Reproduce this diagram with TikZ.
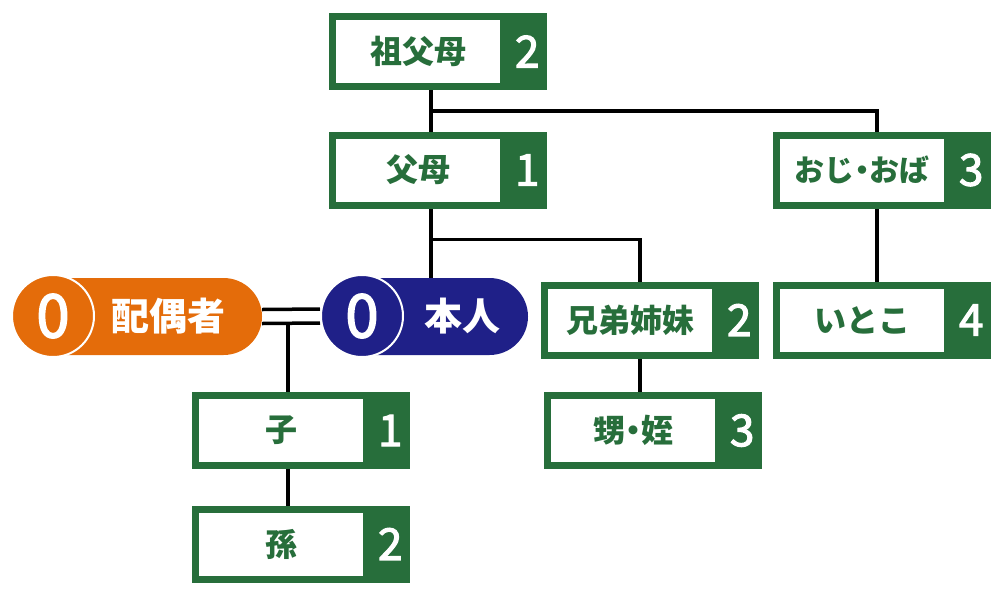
\documentclass[tikz,border=0pt]{standalone}
\usepackage{fontspec}
\newfontfamily\jpfont{Noto Sans CJK JP}
\newfontfamily\numfont{Noto Sans CJK JP}[FakeBold=2.5]
\usetikzlibrary{positioning, backgrounds, calc, shapes.misc}
\definecolor{famgreen}{HTML}{276E3B}
\definecolor{selfblue}{HTML}{1F2088}
\definecolor{spouseorange}{HTML}{E46C0A}

\begin{document}
\begin{tikzpicture}[
    x=1pt, y=-1pt,
    % relative box (white label part)
    relbox/.style={
        rectangle,
        draw=famgreen,
        line width=7pt,
        fill=white,
        minimum width=171pt,
        minimum height=70pt,
        inner sep=0pt,
        text=famgreen,
        font=\jpfont\bfseries\fontsize{32}{32}\selectfont
    },
    % degree number (green part)
    degree/.style={
        rectangle,
        fill=famgreen,
        minimum width=40pt,
        minimum height=77pt,
        inner sep=0pt,
        anchor=west,
        text=white,
        font=\numfont\fontsize{44}{44}\selectfont
    },
    % pill body and circle
    pillbody/.style={
        rounded rectangle,
        rounded rectangle left arc=none,
        minimum height=77pt,
        inner sep=0pt
    },
    pillzero/.style={
        circle,
        draw=white,
        line width=2pt,
        minimum size=82pt,
        inner sep=0pt,
        text=white,
        font=\numfont\fontsize{60}{60}\selectfont
    },
    pilltext/.style={
        text=white,
        inner sep=0pt,
        font=\jpfont\bfseries\fontsize{38}{38}\selectfont
    },
    link/.style={
        draw=black,
        line width=3.5pt
    }
]
\useasboundingbox (0,0) rectangle (1000,595);

% === Spouse and self ===
\node[pillbody, fill=spouseorange, minimum width=209pt] (spouse) at (157.5,316.5) {};
\node[pillzero, fill=spouseorange] (spouse0) at (53,316) {0};
\node[pilltext, right=16pt of spouse0] (spouse-t) {配偶者};

\node[pillbody, fill=selfblue, minimum width=166pt] (self) at (445,316.5) {};
\node[pillzero, fill=selfblue] (self0) at (362,316) {0};
\node[pilltext, right=20pt of self0] (self-t) {本人};

% === Relatives ===
\node[relbox] (sofubo) at (418,51.5) {祖父母};
\node[degree] (sofubo-n) at (sofubo.east) {2};

\node[relbox] (fubo) at (418,170) {父母};
\node[degree] (fubo-n) at (fubo.east) {1};

\node[relbox, font=\jpfont\bfseries\fontsize{30}{30}\selectfont] (oji) at (862,170) {おじ\kern-.25em・\kern-.25emおば};
\node[degree] (oji-n) at (oji.east) {3};

\node[relbox] (itoko) at (862,320) {いとこ};
\node[degree] (itoko-n) at (itoko.east) {4};

\node[relbox] (kyodai) at (630,320) {兄弟姉妹};
\node[degree] (kyodai-n) at (kyodai.east) {2};

\node[relbox] (oimei) at (633,430.5) {甥\kern-.25em・\kern-.25em姪};
\node[degree] (oimei-n) at (oimei.east) {3};

\node[relbox] (ko) at (281,430.5) {子};
\node[degree] (ko-n) at (ko.east) {1};

\node[relbox] (mago) at (281,544) {孫};
\node[degree] (mago-n) at (mago.east) {2};

% === Connectors ===
\begin{scope}[on background layer]
    \coordinate (gp) at ([xshift=13pt]sofubo.south);
    \draw[link] (gp) -- (gp |- fubo.north);
    \draw[link] ($(gp)!0.5!(gp |- fubo.north)$) -| ([xshift=15pt]oji.north);
    \draw[link] ([xshift=15pt]oji.south) -- ([xshift=15pt]oji.south |- itoko.north);

    \coordinate (pa) at ([xshift=13pt]fubo.south);
    \draw[link] (pa) -- (pa |- self.north);
    \draw[link] ($(pa)!0.45!(pa |- self.north)$) -| ([xshift=10pt]kyodai.north);
    \draw[link] ([xshift=10pt]kyodai.south) -- ([xshift=10pt]kyodai.south |- oimei.north);

    \draw[link] ([yshift=7pt]spouse.east) -- ([yshift=7pt]self0.west);
    \draw[link] ([yshift=-7pt]spouse.east) -- ([yshift=-7pt]self0.west);
    \coordinate (wed) at ($([yshift=-7pt]spouse.east)!0.45!([yshift=-7pt]self0.west)$);
    \draw[link] (wed) -- (wed |- ko.north);
    \draw[link] ([xshift=7pt]ko.south) -- ([xshift=7pt]ko.south |- mago.north);
\end{scope}

\end{tikzpicture}
\end{document}
